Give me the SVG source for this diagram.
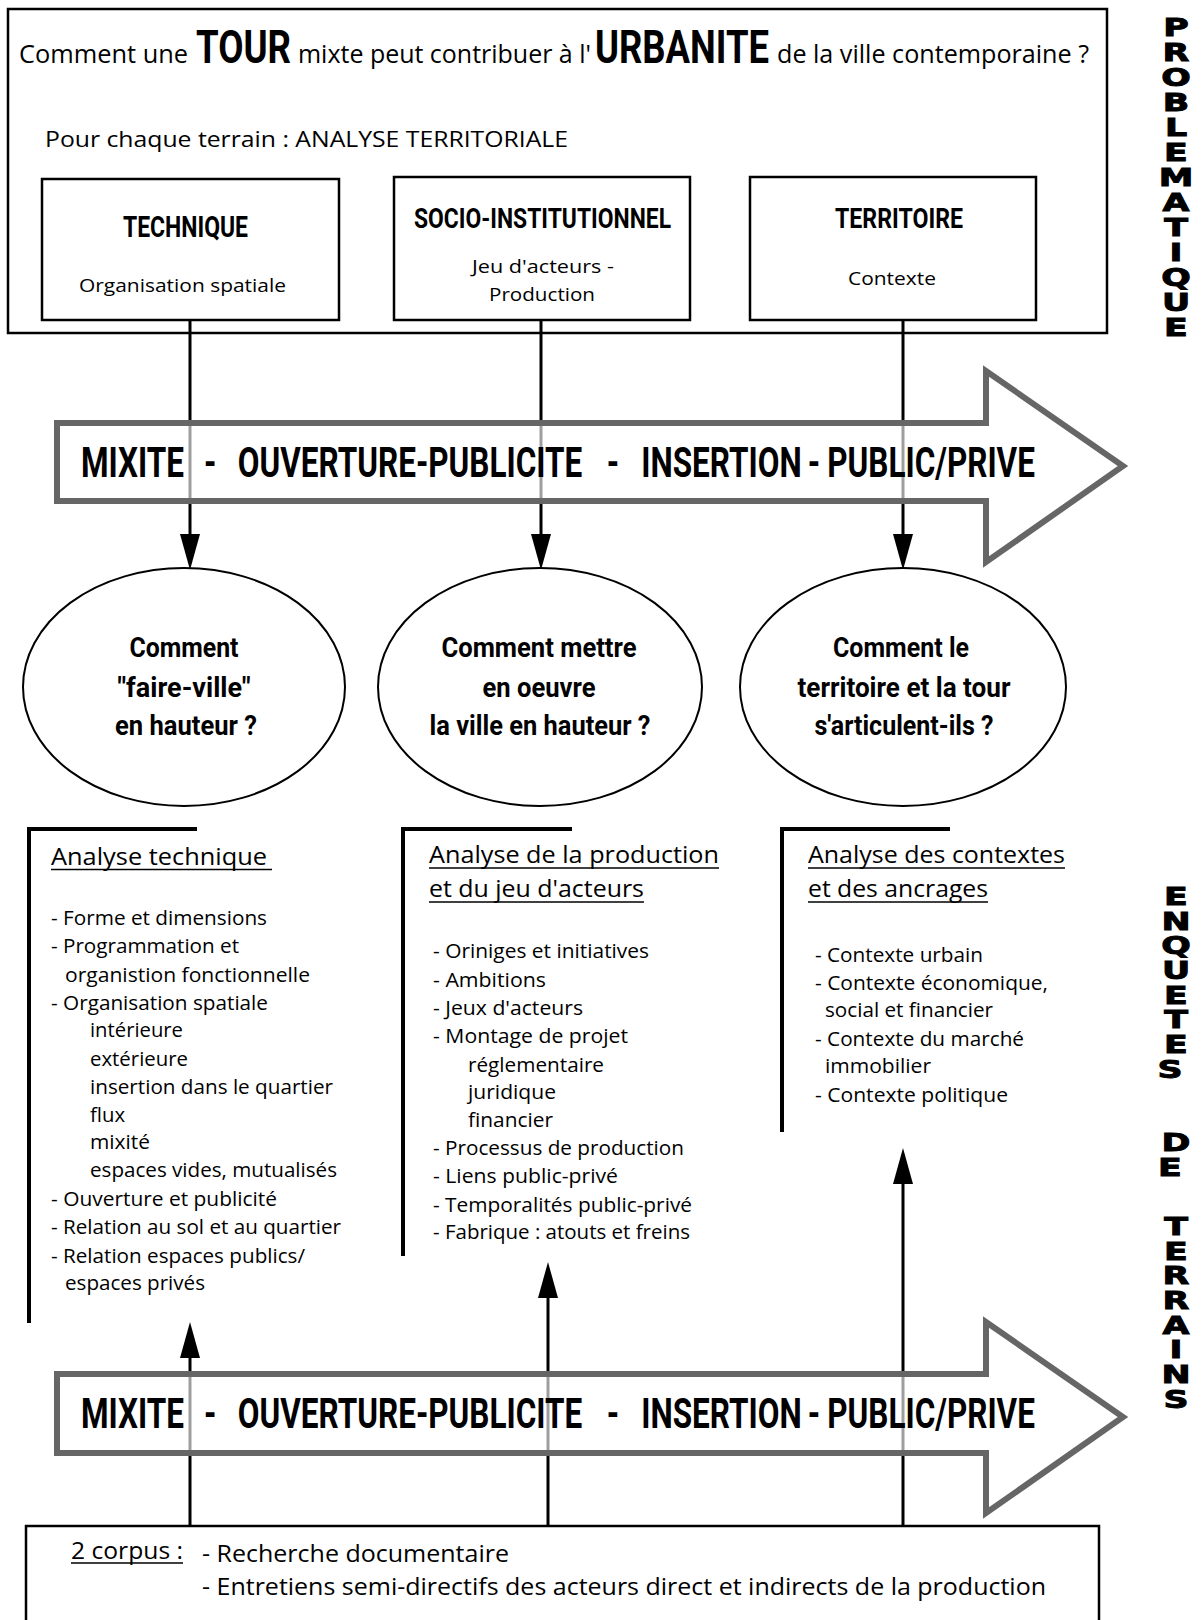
<svg xmlns="http://www.w3.org/2000/svg" width="1203" height="1620" viewBox="0 0 1203 1620">
<style>
.reg{font-family:"Open Sans","Liberation Sans",sans-serif;fill:#000}
.bc{font-family:Roboto,"Liberation Sans",sans-serif;font-weight:700;fill:#000}
.box{fill:#fff;stroke:#000;stroke-width:2.5}
.ell{fill:#fff;stroke:#000;stroke-width:2}
.conn{stroke:#000;stroke-width:3;fill:none}
.brk{stroke:#000;stroke-width:4;fill:none}
.ul{stroke:#000;stroke-width:1.5}
.big{fill:#fff;fill-opacity:0.62;stroke:#666;stroke-width:6;stroke-linejoin:miter}
.side{font-family:"DejaVu Sans","Liberation Sans",sans-serif;font-weight:700;font-size:24px;fill:#000;stroke:#000;stroke-width:0.9}
</style>
<defs>
<marker id="ah" viewBox="0 0 36 20" refX="0" refY="10" markerWidth="36" markerHeight="20" markerUnits="userSpaceOnUse" orient="auto">
<path d="M0,0 L36,10 L0,20 Z" fill="#000"/>
</marker>
</defs>
<rect width="1203" height="1620" fill="#fff"/>

<g id="problematique">
<rect class="box" x="8" y="9" width="1099" height="324"/>
<text class="reg" x="19" y="63" font-size="25" textLength="169" lengthAdjust="spacingAndGlyphs">Comment une</text>
<text class="bc" x="196" y="63" font-size="46" textLength="95" lengthAdjust="spacingAndGlyphs">TOUR</text>
<text class="reg" x="298" y="63" font-size="25" textLength="293" lengthAdjust="spacingAndGlyphs">mixte peut contribuer à l'</text>
<text class="bc" x="595" y="63" font-size="46" textLength="174" lengthAdjust="spacingAndGlyphs">URBANITE</text>
<text class="reg" x="777" y="63" font-size="25" textLength="312" lengthAdjust="spacingAndGlyphs">de la ville contemporaine ?</text>
<text class="reg" x="45" y="147" font-size="22" textLength="523" lengthAdjust="spacingAndGlyphs">Pour chaque terrain : ANALYSE TERRITORIALE</text>
</g>

<g id="connectors">
<line class="conn" x1="190" y1="320" x2="190" y2="534" marker-end="url(#ah)"/>
<line class="conn" x1="541" y1="320" x2="541" y2="534" marker-end="url(#ah)"/>
<line class="conn" x1="903" y1="320" x2="903" y2="534" marker-end="url(#ah)"/>
<line class="conn" x1="190" y1="1526" x2="190" y2="1358" marker-end="url(#ah)"/>
<line class="conn" x1="548" y1="1528" x2="548" y2="1298" marker-end="url(#ah)"/>
<line class="conn" x1="903" y1="1526" x2="903" y2="1184" marker-end="url(#ah)"/>
</g>

<g id="box-technique">
<rect class="box" x="42" y="179" width="297" height="141"/>
<text class="bc" x="123" y="237" font-size="29" textLength="125" lengthAdjust="spacingAndGlyphs">TECHNIQUE</text>
<text class="reg" x="79" y="292" font-size="19" textLength="207" lengthAdjust="spacingAndGlyphs">Organisation spatiale</text>
</g>
<g id="box-socio">
<rect class="box" x="394" y="177" width="296" height="143"/>
<text class="bc" x="414" y="228" font-size="28" textLength="257" lengthAdjust="spacingAndGlyphs">SOCIO-INSTITUTIONNEL</text>
<text class="reg" x="472" y="273" font-size="19" textLength="142" lengthAdjust="spacingAndGlyphs">Jeu d'acteurs -</text>
<text class="reg" x="489" y="301" font-size="19" textLength="106" lengthAdjust="spacingAndGlyphs">Production</text>
</g>
<g id="box-territoire">
<rect class="box" x="750" y="177" width="286" height="143"/>
<text class="bc" x="835" y="228" font-size="28" textLength="128" lengthAdjust="spacingAndGlyphs">TERRITOIRE</text>
<text class="reg" x="848" y="285" font-size="19" textLength="88" lengthAdjust="spacingAndGlyphs">Contexte</text>
</g>

<g id="banner-top">
<path class="big" d="M57,423 L986,423 L986,371 L1123,466 L986,562 L986,501 L57,501 Z"/>
<text class="bc" font-size="42" transform="translate(0 477) scale(0.75 1)"><tspan x="108" y="0">MIXITE</tspan><tspan x="272" y="0">-</tspan><tspan x="317" y="0">OUVERTURE-PUBLICITE</tspan><tspan x="809" y="0">-</tspan><tspan x="855" y="0">INSERTION</tspan><tspan x="1077" y="0">-</tspan><tspan x="1103" y="0">PUBLIC/PRIVE</tspan></text>
</g>

<g id="q-technique">
<ellipse class="ell" cx="184" cy="687" rx="161" ry="119"/>
<text class="bc" x="184" y="657" font-size="27" text-anchor="middle" textLength="109" lengthAdjust="spacingAndGlyphs">Comment</text>
<text class="bc" x="184" y="697" font-size="27" text-anchor="middle" textLength="133" lengthAdjust="spacingAndGlyphs">"faire-ville"</text>
<text class="bc" x="186" y="735" font-size="27" text-anchor="middle" textLength="142" lengthAdjust="spacingAndGlyphs">en hauteur ?</text>
</g>
<g id="q-socio">
<ellipse class="ell" cx="540" cy="687" rx="162" ry="119"/>
<text class="bc" x="539" y="657" font-size="27" text-anchor="middle" textLength="195" lengthAdjust="spacingAndGlyphs">Comment mettre</text>
<text class="bc" x="539" y="697" font-size="27" text-anchor="middle" textLength="113" lengthAdjust="spacingAndGlyphs">en oeuvre</text>
<text class="bc" x="540" y="735" font-size="27" text-anchor="middle" textLength="221" lengthAdjust="spacingAndGlyphs">la ville en hauteur ?</text>
</g>
<g id="q-territoire">
<ellipse class="ell" cx="903" cy="687" rx="163" ry="119"/>
<text class="bc" x="901" y="657" font-size="27" text-anchor="middle" textLength="136" lengthAdjust="spacingAndGlyphs">Comment le</text>
<text class="bc" x="904" y="697" font-size="27" text-anchor="middle" textLength="213" lengthAdjust="spacingAndGlyphs">territoire et la tour</text>
<text class="bc" x="904" y="735" font-size="27" text-anchor="middle" textLength="179" lengthAdjust="spacingAndGlyphs">s'articulent-ils ?</text>
</g>

<g id="analyse-technique">
<path class="brk" d="M197,829 L29,829 L29,1323"/>
<text class="reg" x="51" y="865" font-size="23" textLength="216" lengthAdjust="spacingAndGlyphs">Analyse technique</text>
<line class="ul" x1="51" y1="869.5" x2="272" y2="869.5"/>
<g class="reg" font-size="20">
<text x="51" y="925" textLength="216" lengthAdjust="spacingAndGlyphs">- Forme et dimensions</text>
<text x="51" y="953" textLength="188" lengthAdjust="spacingAndGlyphs">- Programmation et</text>
<text x="65" y="982" textLength="245" lengthAdjust="spacingAndGlyphs">organistion fonctionnelle</text>
<text x="51" y="1010" textLength="217" lengthAdjust="spacingAndGlyphs">- Organisation spatiale</text>
<text x="90" y="1037" textLength="93" lengthAdjust="spacingAndGlyphs">intérieure</text>
<text x="90" y="1066" textLength="98" lengthAdjust="spacingAndGlyphs">extérieure</text>
<text x="90" y="1094" textLength="243" lengthAdjust="spacingAndGlyphs">insertion dans le quartier</text>
<text x="90" y="1122" textLength="35" lengthAdjust="spacingAndGlyphs">flux</text>
<text x="90" y="1149" textLength="60" lengthAdjust="spacingAndGlyphs">mixité</text>
<text x="90" y="1177" textLength="247" lengthAdjust="spacingAndGlyphs">espaces vides, mutualisés</text>
<text x="51" y="1206" textLength="226" lengthAdjust="spacingAndGlyphs">- Ouverture et publicité</text>
<text x="51" y="1234" textLength="290" lengthAdjust="spacingAndGlyphs">- Relation au sol et au quartier</text>
<text x="51" y="1263" textLength="254" lengthAdjust="spacingAndGlyphs">- Relation espaces publics/</text>
<text x="65" y="1290" textLength="140" lengthAdjust="spacingAndGlyphs">espaces privés</text>
</g>
</g>

<g id="analyse-production">
<path class="brk" d="M572,829 L403,829 L403,1256"/>
<text class="reg" x="429" y="863" font-size="23" textLength="290" lengthAdjust="spacingAndGlyphs">Analyse de la production</text>
<line class="ul" x1="429" y1="868" x2="719" y2="868"/>
<text class="reg" x="429" y="897" font-size="23" textLength="215" lengthAdjust="spacingAndGlyphs">et du jeu d'acteurs</text>
<line class="ul" x1="429" y1="902" x2="644" y2="902"/>
<g class="reg" font-size="20">
<text x="433" y="958" textLength="216" lengthAdjust="spacingAndGlyphs">- Oriniges et initiatives</text>
<text x="433" y="987" textLength="113" lengthAdjust="spacingAndGlyphs">- Ambitions</text>
<text x="433" y="1015" textLength="150" lengthAdjust="spacingAndGlyphs">- Jeux d'acteurs</text>
<text x="433" y="1043" textLength="195" lengthAdjust="spacingAndGlyphs">- Montage de projet</text>
<text x="468" y="1072" textLength="136" lengthAdjust="spacingAndGlyphs">réglementaire</text>
<text x="468" y="1099" textLength="88" lengthAdjust="spacingAndGlyphs">juridique</text>
<text x="468" y="1127" textLength="85" lengthAdjust="spacingAndGlyphs">financier</text>
<text x="433" y="1155" textLength="251" lengthAdjust="spacingAndGlyphs">- Processus de production</text>
<text x="433" y="1183" textLength="185" lengthAdjust="spacingAndGlyphs">- Liens public-privé</text>
<text x="433" y="1212" textLength="259" lengthAdjust="spacingAndGlyphs">- Temporalités public-privé</text>
<text x="433" y="1239" textLength="257" lengthAdjust="spacingAndGlyphs">- Fabrique : atouts et freins</text>
</g>
</g>

<g id="analyse-contextes">
<path class="brk" d="M950,829 L782,829 L782,1132"/>
<text class="reg" x="808" y="863" font-size="23" textLength="257" lengthAdjust="spacingAndGlyphs">Analyse des contextes</text>
<line class="ul" x1="808" y1="868" x2="1065" y2="868"/>
<text class="reg" x="808" y="897" font-size="23" textLength="180" lengthAdjust="spacingAndGlyphs">et des ancrages</text>
<line class="ul" x1="808" y1="902" x2="988" y2="902"/>
<g class="reg" font-size="20">
<text x="815" y="962" textLength="168" lengthAdjust="spacingAndGlyphs">- Contexte urbain</text>
<text x="815" y="990" textLength="233" lengthAdjust="spacingAndGlyphs">- Contexte économique,</text>
<text x="825" y="1017" textLength="168" lengthAdjust="spacingAndGlyphs">social et financier</text>
<text x="815" y="1046" textLength="209" lengthAdjust="spacingAndGlyphs">- Contexte du marché</text>
<text x="825" y="1073" textLength="106" lengthAdjust="spacingAndGlyphs">immobilier</text>
<text x="815" y="1102" textLength="193" lengthAdjust="spacingAndGlyphs">- Contexte politique</text>
</g>
</g>

<g id="banner-bottom">
<path class="big" d="M57,1374 L986,1374 L986,1322 L1123,1417 L986,1513 L986,1453 L57,1453 Z"/>
<text class="bc" font-size="42" transform="translate(0 1428) scale(0.75 1)"><tspan x="108" y="0">MIXITE</tspan><tspan x="272" y="0">-</tspan><tspan x="317" y="0">OUVERTURE-PUBLICITE</tspan><tspan x="809" y="0">-</tspan><tspan x="855" y="0">INSERTION</tspan><tspan x="1077" y="0">-</tspan><tspan x="1103" y="0">PUBLIC/PRIVE</tspan></text>
</g>

<g id="corpus">
<rect class="box" x="26" y="1526" width="1073" height="130"/>
<text class="reg" x="71" y="1559" font-size="24" textLength="112" lengthAdjust="spacingAndGlyphs">2 corpus :</text>
<line class="ul" x1="71" y1="1563" x2="183" y2="1563"/>
<text class="reg" x="202" y="1562" font-size="24" textLength="307" lengthAdjust="spacingAndGlyphs">- Recherche documentaire</text>
<text class="reg" x="202" y="1595" font-size="24" textLength="844" lengthAdjust="spacingAndGlyphs">- Entretiens semi-directifs des acteurs direct et indirects de la production</text>
</g>

<g id="label-problematique" transform="translate(1176 0) scale(1.45 1)">
<text class="side" text-anchor="middle">
<tspan x="0" y="36">P</tspan><tspan x="0" y="61">R</tspan><tspan x="0" y="86">O</tspan><tspan x="0" y="111">B</tspan><tspan x="0" y="136">L</tspan><tspan x="0" y="161">E</tspan><tspan x="0" y="186">M</tspan><tspan x="0" y="211">A</tspan><tspan x="0" y="236">T</tspan><tspan x="0" y="261">I</tspan><tspan x="0" y="286">Q</tspan><tspan x="0" y="311">U</tspan><tspan x="0" y="336">E</tspan>
</text>
</g>
<g id="label-enquetes" transform="translate(1176 0) scale(1.45 1)">
<text class="side" text-anchor="middle">
<tspan x="0" y="905">E</tspan><tspan x="0" y="930">N</tspan><tspan x="0" y="954">Q</tspan><tspan x="0" y="979">U</tspan><tspan x="0" y="1004">E</tspan><tspan x="0" y="1028">T</tspan><tspan x="0" y="1053">E</tspan><tspan x="0" y="1078">S</tspan>
<tspan x="0" y="1151">D</tspan><tspan x="0" y="1176">E</tspan>
<tspan x="0" y="1235">T</tspan><tspan x="0" y="1260">E</tspan><tspan x="0" y="1284">R</tspan><tspan x="0" y="1309">R</tspan><tspan x="0" y="1334">A</tspan><tspan x="0" y="1358">I</tspan><tspan x="0" y="1383">N</tspan><tspan x="0" y="1408">S</tspan>
</text>
</g>
</svg>
